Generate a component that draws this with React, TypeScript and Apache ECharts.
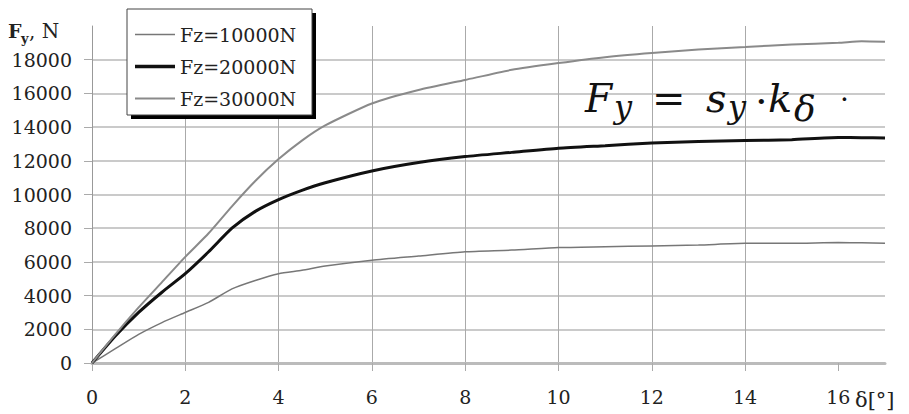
import React, { useEffect, useRef } from "react";
import * as echarts from "echarts";

const delta = [0, 0.5, 1, 1.5, 2, 2.5, 3, 3.5, 4, 4.5, 5, 6, 7, 8, 9, 10, 11, 12, 13, 14, 15, 16, 16.5, 17];
const fz10 = [0, 850, 1700, 2400, 3000, 3600, 4400, 4900, 5300, 5500, 5750, 6100, 6350, 6600, 6700, 6850, 6900, 6950, 7000, 7100, 7100, 7150, 7130, 7100];
const fz20 = [0, 1600, 3000, 4200, 5300, 6600, 8000, 9000, 9700, 10250, 10700, 11400, 11900, 12250, 12500, 12750, 12900, 13050, 13150, 13200, 13250, 13380, 13370, 13350];
const fz30 = [0, 1700, 3300, 4800, 6300, 7700, 9300, 10800, 12100, 13200, 14100, 15400, 16200, 16800, 17400, 17800, 18150, 18400, 18600, 18750, 18900, 19000, 19100, 19070];
const seriesNames = ["Fz=10000N", "Fz=20000N", "Fz=30000N"];
const xTicks = [0, 2, 4, 6, 8, 10, 12, 14, 16];

const SERIF = "DejaVu Serif";

// legend icon: a horizontal bar of given thickness inside a 40x14 box
const lineIcon = (t: number) => {
  const a = 7 - t / 2;
  const b = 7 + t / 2;
  return `path://M0,0L40,0L40,0.001L0,0.001Z M0,14L40,14L40,13.999L0,13.999Z M0,${a}L40,${a}L40,${b}L0,${b}Z`;
};

export default function App() {
  const ref = useRef<HTMLDivElement>(null);
  useEffect(() => {
    if (!ref.current) return;
    const chart = echarts.init(ref.current, null, { renderer: "svg" });
    const pairs = (ys: number[]) => delta.map((d, i) => [d, ys[i]]);
    const it = (t: string, x: number, y: number, size: number, extra: any = {}) => ({
      type: "text",
      x,
      y,
      z: 10,
      style: {
        text: t,
        fontFamily: SERIF,
        fontStyle: "italic",
        fontSize: size,
        fill: "#111",
        verticalAlign: "middle",
        align: "left",
        ...extra,
      },
    });
    chart.setOption({
      animation: false,
      backgroundColor: "#fff",
      grid: { left: 92, right: 24, top: 26, bottom: 51 },
      xAxis: {
        type: "value",
        min: 0,
        max: 17,
        interval: 2,
        axisLine: { show: true, onZero: false, lineStyle: { color: "#bbb", width: 3 } },
        axisTick: { show: true, customValues: xTicks, length: 8, inside: false, lineStyle: { color: "#aaa", width: 1 } },
        axisLabel: {
          showMaxLabel: false,
          margin: 24,
          fontFamily: SERIF,
          fontSize: 19,
          color: "#222",
        },
        splitLine: { show: true, showMaxLine: false, lineStyle: { color: "#aaa", width: 1 } },
      },
      yAxis: {
        type: "value",
        min: 0,
        max: 20000,
        interval: 2000,
        axisLine: { show: true, lineStyle: { color: "#999", width: 1 } },
        axisTick: { show: true, length: 8, lineStyle: { color: "#aaa", width: 1 } },
        axisLabel: {
          showMaxLabel: false,
          margin: 20,
          fontFamily: SERIF,
          fontSize: 19,
          color: "#222",
          formatter: (v: number) => String(v),
        },
        splitLine: { show: true, showMaxLine: false, lineStyle: { color: "#cacaca", width: 2 } },
      },
      legend: {
        orient: "vertical",
        left: 127,
        top: 9,
        padding: [16, 14, 10, 8],
        itemWidth: 40,
        itemHeight: 14,
        itemGap: 13,
        data: [
          { name: seriesNames[0], icon: lineIcon(1.5) },
          { name: seriesNames[1], icon: lineIcon(3.5) },
          { name: seriesNames[2], icon: lineIcon(2) },
        ],
        textStyle: { fontFamily: SERIF, fontSize: 19, color: "#222" },
        z: 6,
      },
      graphic: [
        { type: "rect", z: 4, shape: { x: 131, y: 13, width: 185, height: 106 }, style: { fill: "#000" } },
        { type: "rect", z: 5, shape: { x: 127, y: 9, width: 185, height: 106 }, style: { fill: "#fff", stroke: "#444", lineWidth: 1 } },
        // y-axis title
        { type: "text", x: 8, y: 31, z: 10, style: { text: "F", fontFamily: SERIF, fontWeight: "bold", fontSize: 19, fill: "#222", verticalAlign: "middle" } },
        { type: "text", x: 21, y: 38, z: 10, style: { text: "y", fontFamily: SERIF, fontWeight: "bold", fontSize: 13, fill: "#222", verticalAlign: "middle" } },
        { type: "text", x: 29, y: 31, z: 10, style: { text: ", N", fontFamily: SERIF, fontSize: 20, fill: "#222", verticalAlign: "middle" } },
        // x-axis title
        { type: "text", x: 855, y: 400, z: 10, style: { text: "δ[°]", fontFamily: SERIF, fontSize: 21, fill: "#222", verticalAlign: "middle" } },
        // formula
        it("F", 585, 98, 39),
        it("y", 614, 107, 32),
        it("=", 652, 98, 40, { fontStyle: "normal" }),
        it("s", 706, 98, 40),
        it("y", 728, 107, 32),
        it("·", 755, 101, 40, { fontStyle: "normal" }),
        it("k", 768, 98, 40),
        it("δ", 794, 108, 36),
        it("·", 840, 99, 28, { fontStyle: "normal" }),
      ],
      series: [
        {
          name: seriesNames[0],
          type: "line",
          data: pairs(fz10),
          symbol: "none",
          smooth: 0.2,
          lineStyle: { color: "#777", width: 1.5 },
          itemStyle: { color: "#777" },
        },
        {
          name: seriesNames[1],
          type: "line",
          data: pairs(fz20),
          symbol: "none",
          smooth: 0.2,
          lineStyle: { color: "#111", width: 3 },
          itemStyle: { color: "#111" },
        },
        {
          name: seriesNames[2],
          type: "line",
          data: pairs(fz30),
          symbol: "none",
          smooth: 0.2,
          lineStyle: { color: "#8a8a8a", width: 2 },
          itemStyle: { color: "#8a8a8a" },
        },
      ],
    });
    return () => chart.dispose();
  }, []);
  return <div ref={ref} style={{ width: 909, height: 414, position: "absolute", left: 0, top: 0 }} />;
}
